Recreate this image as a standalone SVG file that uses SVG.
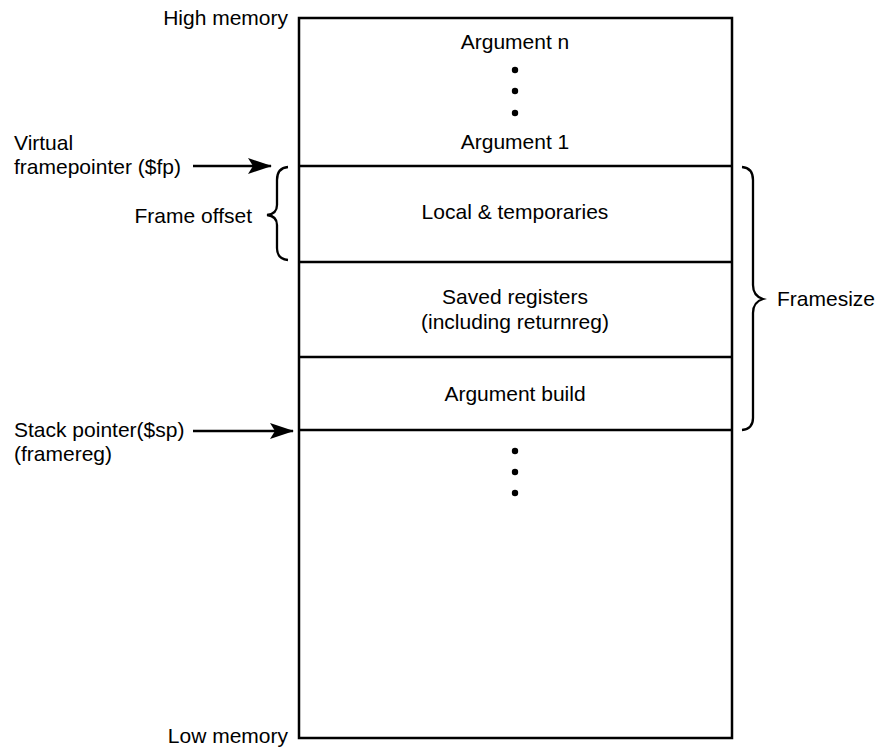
<svg xmlns="http://www.w3.org/2000/svg" width="887" height="750" viewBox="0 0 887 750">
<defs>
<style>
text{font-family:"Liberation Sans",Arial,sans-serif;font-size:21px;fill:#000}
.c{text-anchor:middle}
.r{text-anchor:end}
.ln{stroke:#000;stroke-width:2.5;fill:none}
.br{stroke:#000;stroke-width:2.3;fill:none}
</style>
<marker id="ah" markerWidth="24" markerHeight="16" refX="23" refY="8" orient="auto" markerUnits="userSpaceOnUse">
<path d="M0,0 L24,8 L0,16 L5,8 Z" fill="#000"/>
</marker>
</defs>
<rect width="887" height="750" fill="#fff"/>
<g id="stack">
<rect x="299" y="18" width="433" height="720" class="ln"/>
</g>
<g id="args">
<text class="c" x="515" y="49">Argument n</text>
<circle cx="515" cy="70" r="3.2"/><circle cx="515" cy="91" r="3.2"/><circle cx="515" cy="113" r="3.2"/>
<text class="c" x="515" y="149">Argument 1</text>
</g>
<g id="locals">
<line x1="299" y1="166" x2="732" y2="166" class="ln"/>
<text class="c" x="515" y="219">Local &amp; temporaries</text>
</g>
<g id="saved">
<line x1="299" y1="262" x2="732" y2="262" class="ln"/>
<text class="c" x="515" y="304">Saved registers</text>
<text class="c" x="515" y="329">(including returnreg)</text>
</g>
<g id="argbuild">
<line x1="299" y1="357" x2="732" y2="357" class="ln"/>
<text class="c" x="515" y="401">Argument build</text>
</g>
<g id="below">
<line x1="299" y1="430" x2="732" y2="430" class="ln"/>
<circle cx="515" cy="451" r="3.2"/><circle cx="515" cy="472" r="3.2"/><circle cx="515" cy="493" r="3.2"/>
</g>
<g id="labels">
<text class="r" x="288" y="25">High memory</text>
<text class="r" x="288" y="743">Low memory</text>
<text x="14" y="150">Virtual</text>
<text x="14" y="174">framepointer ($fp)</text>
<text x="14" y="437">Stack pointer($sp)</text>
<text x="14" y="461">(framereg)</text>
<text class="r" x="252" y="223">Frame offset</text>
<text x="777" y="306">Framesize</text>
</g>
<g id="connectors">
<line x1="193" y1="166" x2="271" y2="166" class="ln" marker-end="url(#ah)"/>
<line x1="193" y1="431" x2="293" y2="431" class="ln" marker-end="url(#ah)"/>
<path class="br" d="M288,167 Q277,168 277,180 L277,205 Q277,214 267,215 Q277,216 277,225 L277,248 Q277,259 288,260"/>
<path class="br" d="M742,167 Q753,168 753,180 L753,285 Q753,296 763,299 Q753,302 753,313 L753,418 Q753,429 742,430"/>
</g>
</svg>
